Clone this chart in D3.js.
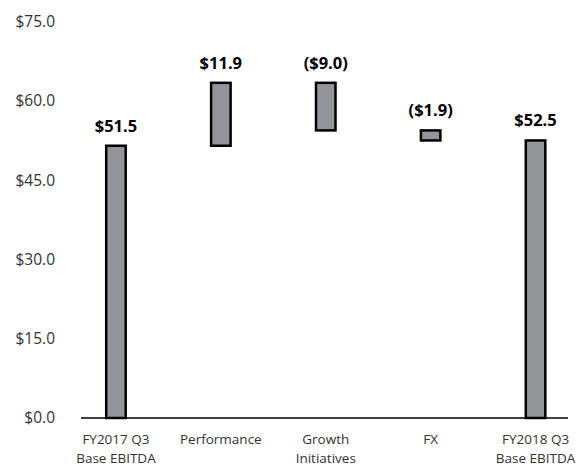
<!DOCTYPE html>
<html><head><meta charset="utf-8">
<script src="https://cdn.jsdelivr.net/npm/d3@7"></script>
<style>body{margin:0;background:#fff}svg{display:block}</style>
</head><body>
<svg id="chart" width="579" height="468"></svg>
<script>
const categories = [["FY2017 Q3","Base EBITDA"],["Performance"],["Growth","Initiatives"],["FX"],["FY2018 Q3","Base EBITDA"]];
const kinds = ["total","delta","delta","delta","total"];
const values = [51.5, 11.9, -9.0, -1.9, 52.5];
const valueLabels = ["$51.5","$11.9","($9.0)","($1.9)","$52.5"];
const yTicks = [0, 15, 30, 45, 60, 75];

const svg = d3.select("#chart");
const x = d3.scaleBand().domain(d3.range(categories.length)).range([63.5, 588]).paddingInner(0.79).paddingOuter(0.395);
const y = d3.scaleLinear().domain([0, 75]).range([418, 21.5]);

// compute floating segments
let run = 0;
const segs = values.map((v, i) => {
  let lo, hi;
  if (kinds[i] === "total") { lo = 0; hi = v; run = v; }
  else { const s = run; run = run + v; lo = Math.min(s, run); hi = Math.max(s, run); }
  return {i, lo, hi, label: valueLabels[i]};
});

// y labels
svg.append("g").selectAll("text").data(yTicks).join("text")
  .attr("x", 55).attr("y", d => y(d)).attr("dy", "0.35em")
  .attr("text-anchor", "end")
  .attr("font-family", "'Open Sans', sans-serif").attr("font-size", 15.5)
  .attr("fill", "#333")
  .text(d => "$" + d.toFixed(1));

// baseline
svg.append("line").attr("x1", 81).attr("x2", 568).attr("y1", y(0)).attr("y2", y(0))
  .attr("stroke", "#000").attr("stroke-width", 1.5);

const bw = 19.5;
svg.append("g").selectAll("rect").data(segs).join("rect")
  .attr("x", d => x(d.i) + x.bandwidth()/2 - bw/2)
  .attr("width", bw)
  .attr("y", d => y(d.hi))
  .attr("height", d => y(d.lo) - y(d.hi))
  .attr("fill", "#939598").attr("stroke", "#000").attr("stroke-width", 2.5);

svg.append("g").selectAll("text").data(segs).join("text")
  .attr("x", d => x(d.i) + x.bandwidth()/2)
  .attr("y", d => y(d.hi) - 14)
  .attr("text-anchor", "middle")
  .attr("font-family", "'Open Sans', sans-serif").attr("font-weight", "bold").attr("font-size", 16.5)
  .attr("fill", "#000")
  .text(d => d.label);

// category labels
const cat = svg.append("g").selectAll("text").data(categories).join("text")
  .attr("x", (d, i) => x(i) + x.bandwidth()/2)
  .attr("y", 444)
  .attr("text-anchor", "middle")
  .attr("font-family", "'Open Sans', sans-serif").attr("font-size", 13.5)
  .attr("fill", "#333");
cat.each(function(d, i) {
  const t = d3.select(this);
  d.forEach((line, j) => {
    t.append("tspan").attr("x", x(i) + x.bandwidth()/2).attr("dy", j === 0 ? 0 : 19).text(line);
  });
});
</script>
</body></html>
